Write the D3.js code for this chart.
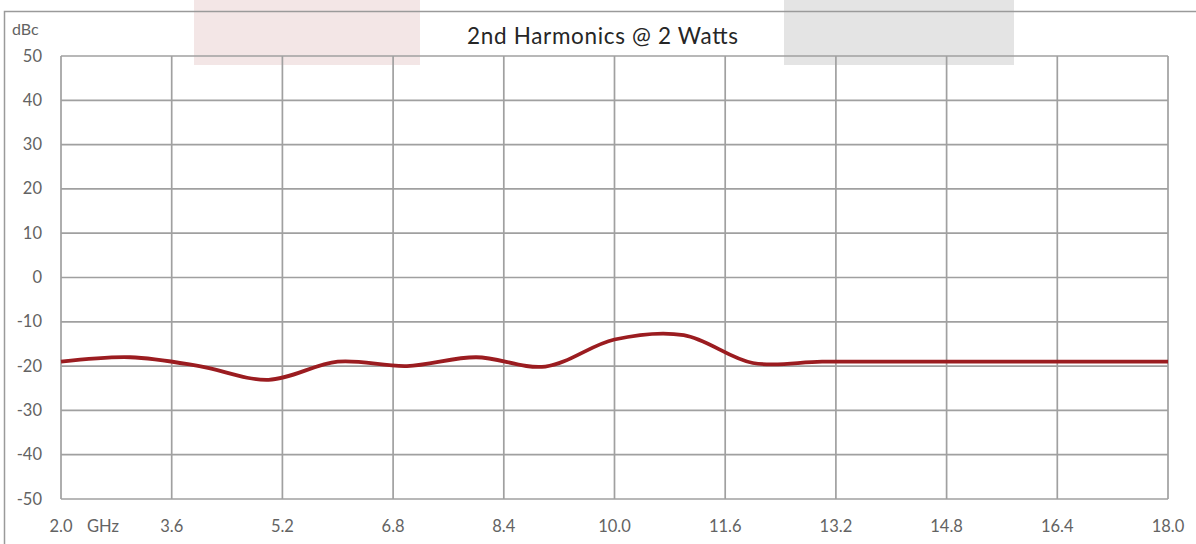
<!DOCTYPE html>
<html>
<head>
<meta charset="utf-8">
<script src="https://cdn.jsdelivr.net/npm/d3@7"></script>
<style>
  html, body { margin: 0; padding: 0; background: #fff; }
  svg { display: block; font-family: Lato, "Open Sans", sans-serif; }
</style>
</head>
<body>
<svg id="chart" width="1196" height="544"></svg>
<script>
// frequency points (GHz) and 2nd harmonic level (dBc)
var freqs = [2, 3, 4, 5, 6, 7, 8, 9, 10, 11, 12, 13, 14, 15, 16, 17, 18];
var dbc = [-19, -18, -20, -23.1, -19, -20, -18, -20.1, -14, -13, -19.3, -19, -19, -19, -19, -19, -19];
var xTicks = [2.0, 3.6, 5.2, 6.8, 8.4, 10.0, 11.6, 13.2, 14.8, 16.4, 18.0];
var yTicks = [50, 40, 30, 20, 10, 0, -10, -20, -30, -40, -50];

var svg = d3.select("#chart");
var plot = { left: 61, right: 1168, top: 56, bottom: 499 };

var x = d3.scaleLinear().domain([2, 18]).range([plot.left, plot.right]);
var y = d3.scaleLinear().domain([-50, 50]).range([plot.bottom, plot.top]);

// faint header blocks behind title
svg.append("rect").attr("x", 194).attr("y", 0).attr("width", 226).attr("height", 65).attr("fill", "#f3e6e6");
svg.append("rect").attr("x", 784).attr("y", 0).attr("width", 230).attr("height", 65).attr("fill", "#e4e4e4");

// outer frame (top and left edges visible)
svg.append("path")
  .attr("d", "M4.5,544V11.5H1196")
  .attr("fill", "none").attr("stroke", "#9a9a9a").attr("stroke-width", 1.5);

// grid
var grid = svg.append("g").attr("stroke", "#a0a0a0").attr("stroke-width", 1.7);
grid.selectAll("line.v").data(xTicks).join("line").attr("class", "v")
  .attr("x1", function (d) { return x(d); }).attr("x2", function (d) { return x(d); })
  .attr("y1", plot.top).attr("y2", plot.bottom);
grid.selectAll("line.h").data(yTicks).join("line").attr("class", "h")
  .attr("x1", plot.left).attr("x2", plot.right)
  .attr("y1", function (d) { return y(d); }).attr("y2", function (d) { return y(d); });

// y axis labels
svg.append("g").selectAll("text").data(yTicks).join("text")
  .attr("x", 42).attr("y", function (d) { return y(d) + 5.5; })
  .attr("text-anchor", "end").attr("fill", "#636363").attr("font-size", 16.5)
  .text(function (d) { return d; });
svg.append("text").attr("x", 12).attr("y", 35).attr("fill", "#636363").attr("font-size", 16).text("dBc");

// x axis labels
svg.append("g").selectAll("text").data(xTicks).join("text")
  .attr("x", function (d) { return x(d); }).attr("y", 531.5)
  .attr("text-anchor", "middle").attr("fill", "#636363").attr("font-size", 16.5)
  .text(function (d) { return d.toFixed(1); });
svg.append("text").attr("x", 87).attr("y", 531.5).attr("fill", "#636363").attr("font-size", 16.5).text("GHz");

// title
svg.append("text").attr("x", 602.5).attr("y", 43.5)
  .attr("text-anchor", "middle").attr("fill", "#262626").attr("font-size", 22.5)
  .attr("textLength", 271).attr("lengthAdjust", "spacing")
  .text("2nd Harmonics @ 2 Watts");

// data line
var line = d3.line()
  .x(function (d, i) { return x(freqs[i]); })
  .y(function (d) { return y(d); })
  .curve(d3.curveCatmullRom.alpha(0.5));
svg.append("path").datum(dbc)
  .attr("d", line)
  .attr("fill", "none").attr("stroke", "#9b1c20").attr("stroke-width", 3.8)
  .attr("stroke-linejoin", "round");
</script>
</body>
</html>
